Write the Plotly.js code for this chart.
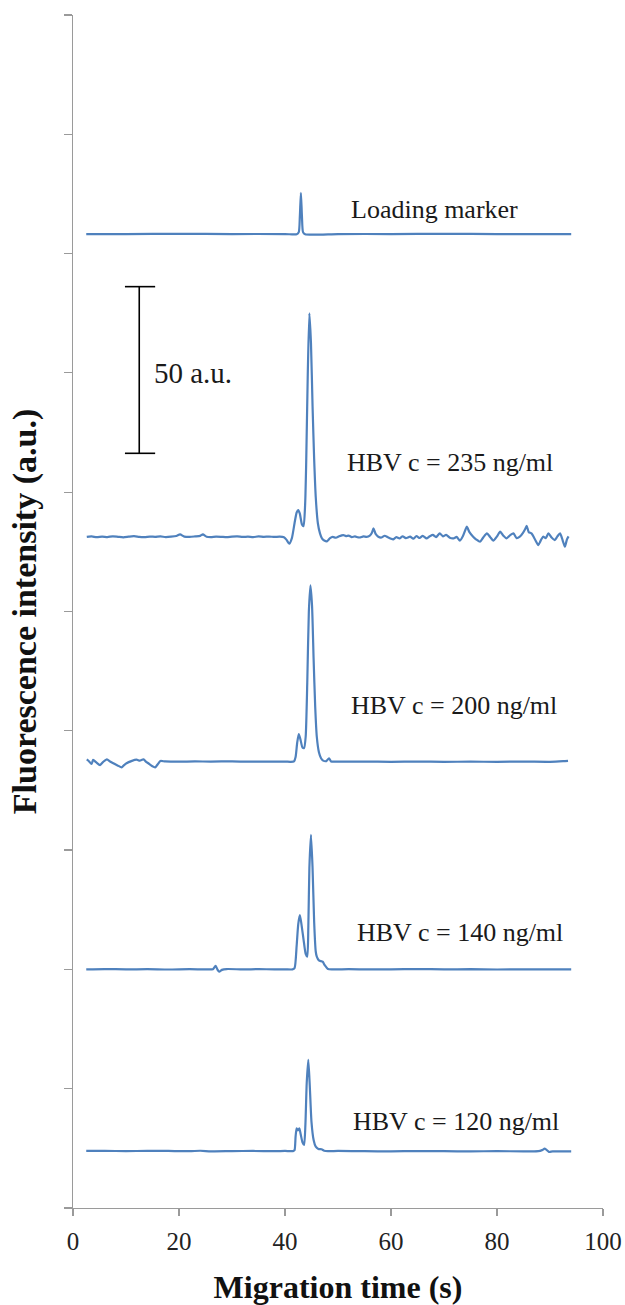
<!DOCTYPE html>
<html>
<head>
<meta charset="utf-8">
<script src="https://cdn.plot.ly/plotly-3.0.1.min.js"></script>
<style>html,body{margin:0;padding:0;background:#fff;}#chart{width:625px;height:1305px;}</style>
</head>
<body>
<div id="chart"></div>
<script>
// ---- Data (x: migration time in s, y: stacked intensity in axis units) ----
var xTickVals = [0, 20, 40, 60, 80, 100];

var loadingX = [2.5, 10, 20, 30, 40, 42.2, 42.6, 42.8, 43.0, 43.2, 43.4, 43.8, 50, 60, 70, 80, 94];
var loadingY = [816.4, 816.4, 816.5, 816.4, 816.4, 816.2, 818, 831, 851, 831, 818, 816.2, 816.4, 816.4, 816.5, 816.4, 816.4];

var hbv235X = [2.6, 3.5, 4.5, 5.5, 6.5, 7.5, 8.5, 9.5, 10.5, 11.5, 12.5, 13.5, 14.5, 15.5, 16.5, 17.5, 18.5, 19.5, 20.2, 21.0,
  22.0, 23.0, 24.0, 24.5, 25.2, 26.0, 27.0, 28.0, 29.0, 30.0, 31.0, 32.0, 33.0, 34.0, 35.0, 36.0, 37.0, 38.0, 39.0, 39.8,
  40.3, 40.8, 41.3, 41.8, 42.2, 42.5, 42.8, 43.2, 43.5, 43.8, 44.0, 44.3, 44.6, 44.9, 45.2, 45.5, 45.8, 46.2, 46.6, 47.0,
  47.4, 47.9, 48.5, 49.0, 49.6, 50.2, 50.7, 51.0, 51.5, 52.0, 52.6, 53.2, 53.8, 54.2, 54.8, 55.4, 56.0, 56.4, 56.7, 57.1,
  57.6, 58.2, 58.8, 59.4, 60.0, 60.4, 61.0, 61.6, 62.2, 62.8, 63.6, 64.2, 64.8, 65.4, 66.0, 66.7, 67.3, 67.9, 68.5, 69.2,
  69.8, 70.4, 71.1, 71.8, 72.4, 73.0, 73.6, 74.0, 74.3, 74.8, 75.5, 76.1, 76.8, 77.4, 78.1, 78.7, 79.3, 80.0, 80.6, 81.2,
  81.8, 82.5, 83.1, 83.7, 84.3, 84.9, 85.3, 85.6, 86.0, 86.5, 87.1, 87.8, 88.2, 88.7, 89.2, 89.7, 90.3, 90.9, 91.4, 91.9,
  92.4, 92.8, 93.2, 93.5];
var hbv235Y = [562.5, 562.9, 562.3, 562.8, 562.4, 563.0, 562.6, 562.2, 562.7, 563.1, 562.5, 562.3, 562.8, 562.6, 562.9, 562.4, 562.7, 563.3, 564.6, 562.8,
  562.5, 562.9, 563.4, 564.6, 562.7, 562.4, 562.8, 562.6, 562.3, 562.8, 563.0, 562.5, 562.7, 562.4, 562.9, 562.6, 562.8, 562.5, 562.7, 562.2,
  560.0, 556.8, 561.5, 574, 583, 585.1, 582, 573, 571.5, 590, 625, 700, 750, 725, 672, 628, 596, 574, 565.5, 561,
  559.5, 558.8, 561.5, 562.5, 561.8, 563.0, 563.8, 564.1, 563.2, 563.6, 562.4, 563.0, 562.1, 562.1, 563.0, 562.5, 563.5, 566, 569.7, 565,
  562.7, 562.0, 563.5, 562.2, 561.0, 560.5, 562.3, 561.2, 563.0, 561.5, 562.7, 561.0, 563.2, 561.6, 563.4, 561.3, 563.0, 564.2, 562.4, 565.5,
  563.0, 564.3, 561.8, 561.3, 562.5, 559.4, 563.5, 568, 571.1, 566.5, 562.7, 560.3, 558.5, 562.0, 565.5, 562.5, 559.4, 563.0, 566.9, 563.5,
  561.3, 564.0, 565.5, 561.5, 562.7, 566.0, 569, 571.7, 566.5, 565.5, 561.0, 555.7, 559.0, 562.7, 561.5, 565.5, 562.0, 559.9, 563.0, 565.5,
  559.5, 554.3, 560.5, 563.0];

var hbv200X = [2.6, 3.0, 3.5, 3.8, 4.4, 5.1, 5.7, 6.4, 7.0, 7.6, 8.4, 9.2, 9.7, 10.1, 11.0, 12.0, 12.6, 13.3, 13.8, 14.2,
  14.9, 15.5, 16.0, 16.5, 17.4, 20, 23, 26, 30, 33, 36, 40, 41.0, 41.7, 42.0, 42.3, 42.6, 42.9, 43.3, 43.6,
  43.9, 44.2, 44.5, 44.8, 45.1, 45.4, 45.7, 46.0, 46.4, 46.8, 47.2, 47.8, 48.3, 48.7, 49.5, 55, 60, 65, 70, 75,
  80, 85, 90, 92.5, 93.4];
var hbv200Y = [376.0, 374.5, 372.2, 375.6, 373.5, 371.3, 374.0, 376.1, 374.3, 372.8, 371.0, 369.4, 371.5, 372.8, 374.6, 375.8, 375.0, 376.1, 374.0, 372.8,
  370.5, 369.4, 372.0, 374.7, 374.3, 374.1, 374.3, 374.2, 374.4, 374.1, 374.2, 374.2, 374.0, 374.3, 378, 390, 397.3, 393, 386, 385.5,
  395, 440, 500, 522, 505, 460, 420, 395, 382, 377, 375, 374.6, 377, 374.3, 374.1, 374.2, 374.0, 374.2, 374.0, 374.1,
  374.0, 374.2, 374.0, 374.5, 374.8];

var hbv140X = [2.5, 6, 10, 14, 18, 22, 25, 26.4, 26.9, 27.3, 27.6, 28.1, 29, 32, 35, 38, 40, 41.4, 41.8, 42.2,
  42.5, 42.8, 43.1, 43.5, 43.9, 44.2, 44.4, 44.6, 44.9, 45.2, 45.5, 45.8, 46.0, 46.4, 47.1, 47.5, 48.1, 49, 52, 56,
  60, 65, 70, 75, 80, 85, 90, 94];
var hbv140Y = [200.1, 200.3, 200.0, 200.2, 199.9, 200.2, 200.0, 200.2, 202.9, 199.5, 198.1, 199.6, 200.3, 200.0, 200.2, 200.0, 200.1, 200.0, 201, 220,
  238, 245.6, 238, 225, 213, 210.7, 235, 285, 312.7, 285, 240, 215, 210.7, 207.5, 206.5, 203.5, 200.3, 200.0, 200.2, 200.0,
  200.1, 200.3, 200.0, 200.2, 199.9, 200.1, 200.0, 200.1];

var hbv120X = [2.5, 6, 10, 14, 18, 22, 24, 26, 30, 34, 38, 40, 41.5, 41.8, 42.0, 42.2, 42.45, 42.7, 42.95, 43.3,
  43.6, 43.85, 44.1, 44.4, 44.7, 45.0, 45.4, 45.8, 46.3, 46.9, 47.4, 48.1, 50, 55, 60, 65, 70, 75, 80, 85,
  87.8, 88.5, 89.0, 89.5, 89.8, 90.5, 94];
var hbv120Y = [47.8, 47.9, 47.7, 47.9, 47.8, 47.6, 48.0, 47.5, 47.7, 47.8, 47.6, 47.8, 47.7, 48.5, 60, 66.8, 65, 66.8, 62, 55,
  52.8, 70, 105, 124.1, 100, 72, 57, 51.4, 49.5, 49.2, 48.0, 47.6, 47.8, 47.6, 47.5, 47.7, 47.6, 47.5, 47.6, 47.5,
  47.6, 48.5, 49.7, 48.2, 47.0, 47.4, 47.5];

// Scale bar (50 a.u.)
var scaleBarX = [9.8, 15.5, null, 12.5, 12.5, null, 9.8, 15.5];
var scaleBarY = [772.3, 772.3, null, 772.3, 632.6, null, 632.6, 632.6];

// Labels
var labelTexts = ["Loading marker", "HBV c = 235 ng/ml", "HBV c = 200 ng/ml", "HBV c = 140 ng/ml", "HBV c = 120 ng/ml"];
var labelX = [68.3, 71.1, 71.8, 73.1, 72.2];
var labelY = [836.6, 624.5, 421.6, 231.3, 72.1];
var scaleLabel = "50 a.u.";
var scaleLabelX = 14.9, scaleLabelY = 699.7;

// ---- Build ----
var lineColor = "#4f81bd";
var serif = "Liberation Serif";
function trace(x, y) {
  return {x: x, y: y, type: "scatter", mode: "lines",
    line: {color: lineColor, width: 2.2, shape: "spline", smoothing: 0.6},
    hoverinfo: "skip", showlegend: false};
}
var data = [
  trace(loadingX, loadingY),
  trace(hbv235X, hbv235Y),
  trace(hbv200X, hbv200Y),
  trace(hbv140X, hbv140Y),
  trace(hbv120X, hbv120Y),
  {x: scaleBarX, y: scaleBarY, type: "scatter", mode: "lines", line: {color: "#000", width: 1.6}, hoverinfo: "skip", showlegend: false, connectgaps: false}
];

var annotations = labelTexts.map(function (t, i) {
  return {text: t, x: labelX[i], y: labelY[i], xref: "x", yref: "y", showarrow: false,
    xanchor: "center", yanchor: "middle", font: {family: serif, size: 26, color: "#1a1a1a"}};
});
annotations.push({text: scaleLabel, x: scaleLabelX, y: scaleLabelY, xref: "x", yref: "y", showarrow: false,
  xanchor: "left", yanchor: "middle", font: {family: serif, size: 29, color: "#1a1a1a"}});

var layout = {
  width: 625, height: 1305,
  margin: {l: 73, r: 22, t: 15, b: 97},
  paper_bgcolor: "#fff", plot_bgcolor: "#fff",
  showlegend: false, hovermode: false,
  xaxis: {
    range: [0, 100], tickvals: xTickVals, ticks: "outside", ticklen: 7, tickcolor: "#9a9a9a", tickwidth: 1.2,
    showline: true, linecolor: "#9a9a9a", linewidth: 1.2, showgrid: false, zeroline: false,
    tickfont: {family: serif, size: 25, color: "#222"}, ticklabelstandoff: 4,
    title: {text: "<b>Migration time (s)</b>", font: {family: serif, size: 32, color: "#111"}, standoff: 28},
    automargin: false
  },
  yaxis: {
    range: [0, 1000], dtick: 100, tick0: 0, ticks: "outside", ticklen: 8, tickcolor: "#9a9a9a", tickwidth: 1.2,
    showline: true, linecolor: "#9a9a9a", linewidth: 1.2, showgrid: false, zeroline: false,
    showticklabels: false,
    title: {text: "<b>Fluorescence intensity (a.u.)</b>", font: {family: serif, size: 34, color: "#111"}, standoff: 17},
    automargin: false
  },
  annotations: annotations
};

Plotly.newPlot("chart", data, layout, {staticPlot: true, displayModeBar: false});
</script>
</body>
</html>
